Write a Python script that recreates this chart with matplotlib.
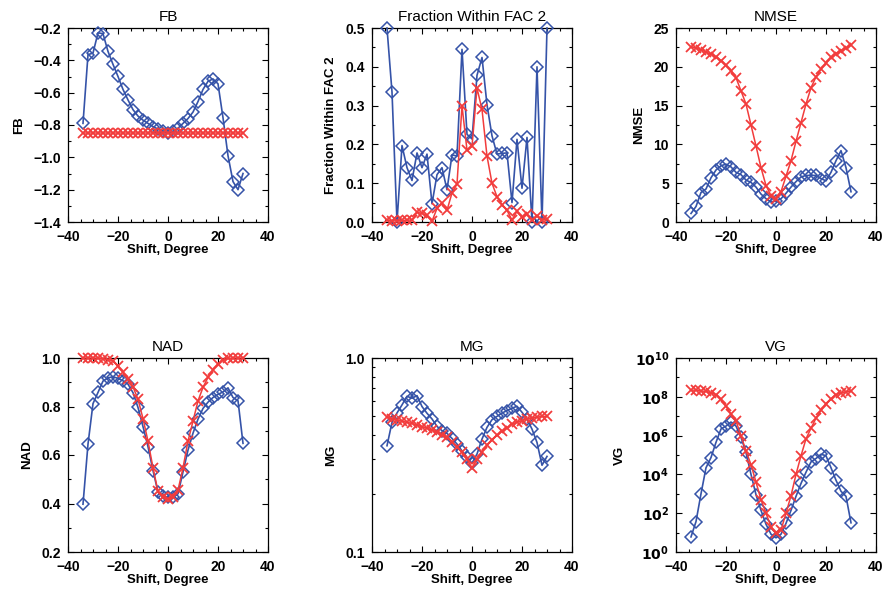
import matplotlib
matplotlib.use("Agg")
import matplotlib.pyplot as plt
from matplotlib.ticker import MultipleLocator, FixedLocator, NullFormatter, FixedFormatter

plt.rcParams['font.family'] = ['Liberation Sans', 'DejaVu Sans']
plt.rcParams['font.weight'] = 'bold'

# shift angle (degrees)
shift = [-34, -32, -30, -28, -26, -24, -22, -20, -18, -16, -14, -12, -10, -8, -6, -4, -2,
         0, 2, 4, 6, 8, 10, 12, 14, 16, 18, 20, 22, 24, 26, 28, 30]

# blue = diamonds, red = crosses
fb_blue = [-0.79, -0.365, -0.355, -0.23, -0.235, -0.345, -0.425, -0.50, -0.58, -0.645, -0.705,
           -0.745, -0.77, -0.79, -0.81, -0.825, -0.84, -0.85, -0.84, -0.82, -0.79, -0.76, -0.72,
           -0.655, -0.58, -0.53, -0.515, -0.545, -0.755, -0.99, -1.15, -1.20, -1.10]
fb_red = [-0.85, -0.85, -0.85, -0.85, -0.85, -0.85, -0.85, -0.85, -0.85, -0.85, -0.85,
          -0.85, -0.85, -0.85, -0.85, -0.85, -0.85, -0.85, -0.85, -0.85, -0.85, -0.85, -0.85,
          -0.85, -0.85, -0.85, -0.85, -0.85, -0.85, -0.85, -0.85, -0.85, -0.85]

fac2_blue = [0.50, 0.335, 0.0, 0.197, 0.14, 0.107, 0.178, 0.14, 0.175, 0.047, 0.122,
             0.14, 0.083, 0.173, 0.17, 0.445, 0.226, 0.214, 0.378, 0.424, 0.302, 0.222, 0.175,
             0.177, 0.178, 0.05, 0.213, 0.087, 0.218, 0.0, 0.40, 0.0, 0.50]
fac2_red = [0.005, 0.003, 0.003, 0.004, 0.005, 0.005, 0.025, 0.022, 0.017, 0.002, 0.035,
            0.048, 0.03, 0.075, 0.098, 0.30, 0.185, 0.195, 0.345, 0.29, 0.17, 0.10, 0.065,
            0.045, 0.03, 0.005, 0.028, 0.012, 0.02, 0.005, 0.015, 0.005, 0.008]

nmse_blue = [1.1, 2.0, 3.8, 4.25, 5.7, 6.7, 7.25, 7.45, 7.1, 6.4, 6.1, 5.4, 5.1, 4.5, 3.6,
             3.0, 2.6, 2.7, 3.0, 3.7, 4.5, 5.2, 5.8, 6.0, 6.0, 6.0, 5.6, 5.3, 6.4, 7.9, 9.2,
             7.0, 3.9]
nmse_red = [22.6, 22.4, 22.2, 21.9, 21.6, 21.3, 20.8, 20.2, 19.5, 18.6, 16.9, 15.2, 12.5,
            9.8, 7.0, 4.7, 3.4, 3.0, 3.9, 5.9, 7.9, 10.4, 12.8, 15.2, 17.3, 18.7, 19.7, 20.5,
            21.2, 21.7, 22.1, 22.4, 22.8]

nad_blue = [0.397, 0.645, 0.812, 0.858, 0.905, 0.918, 0.923, 0.916, 0.906, 0.892, 0.857,
            0.796, 0.717, 0.634, 0.536, 0.447, 0.432, 0.425, 0.425, 0.44, 0.53, 0.62, 0.69,
            0.748, 0.792, 0.818, 0.837, 0.85, 0.86, 0.877, 0.837, 0.824, 0.648]
nad_red = [1.0, 1.0, 1.0, 0.999, 0.997, 0.993, 0.989, 0.968, 0.941, 0.913, 0.881, 0.83,
           0.75, 0.657, 0.547, 0.45, 0.425, 0.42, 0.425, 0.455, 0.547, 0.657, 0.74, 0.823,
           0.879, 0.92, 0.952, 0.975, 0.992, 0.998, 1.0, 1.0, 1.0]

mg_blue = [0.353, 0.466, 0.521, 0.573, 0.635, 0.62, 0.64, 0.562, 0.519, 0.485, 0.444,
           0.422, 0.409, 0.385, 0.36, 0.332, 0.307, 0.287, 0.32, 0.382, 0.439, 0.481, 0.50,
           0.52, 0.536, 0.551, 0.564, 0.525, 0.485, 0.43, 0.367, 0.28, 0.311]
mg_red = [0.495, 0.486, 0.48, 0.472, 0.466, 0.46, 0.45, 0.443, 0.434, 0.425, 0.414, 0.402,
          0.39, 0.37, 0.349, 0.326, 0.30, 0.272, 0.30, 0.328, 0.356, 0.38, 0.40, 0.42, 0.436,
          0.457, 0.466, 0.476, 0.486, 0.49, 0.495, 0.50, 0.50]

vg_blue = [6.0, 3.7e1, 1.0e3, 2.2e4, 7.4e4, 4.5e5, 2.2e6, 3.1e6, 5.0e6, 3.1e6, 8.1e5,
           1.35e5, 1.0e4, 9.0e2, 1.4e2, 2.7e1, 8.3, 5.4, 8.3, 3.0e1, 1.4e2, 7.4e2, 3.4e3,
           1.3e4, 4.4e4, 6.6e4, 1.1e5, 9.1e4, 2.2e4, 5.0e3, 1.35e3, 7.4e2, 3.2e1]
vg_red = [2.2e8, 2.2e8, 2.0e8, 1.9e8, 1.6e8, 1.3e8, 7.4e7, 3.2e7, 1.3e7, 5.6e6, 1.0e6,
          1.6e5, 3.2e4, 4.0e3, 5.0e2, 1.0e2, 2.0e1, 9.0, 1.35e1, 1.0e2, 7.9e2, 1.0e4, 9.1e4,
          6.8e5, 2.4e6, 7.9e6, 2.0e7, 4.5e7, 7.9e7, 1.3e8, 1.6e8, 1.8e8, 2.0e8]

BLUE = '#3553a8'
RED = '#f23c3c'

W, H = 885, 591
fig = plt.figure(figsize=(W / 100, H / 100), dpi=100)


def make_axes(left, top):
    return fig.add_axes([left / W, 1 - (top + 194) / H, 200 / W, 194 / H])


def style(ax, title, ylabel):
    ax.set_title(title, fontsize=11, fontweight='normal', pad=5)
    ax.set_ylabel(ylabel, fontsize=9.5, fontweight='bold', labelpad=6)
    ax.set_xlabel('Shift, Degree', fontsize=9.5, fontweight='bold', labelpad=0)
    ax.set_xlim(-40, 40)
    ax.xaxis.set_major_locator(MultipleLocator(20))
    ax.xaxis.set_minor_locator(MultipleLocator(5))
    ax.tick_params(which='both', direction='in', top=True, right=True, labelsize=10)
    ax.tick_params(which='major', length=4, width=0.8)
    ax.tick_params(axis='x', which='major', pad=6)
    ax.tick_params(axis='y', which='major', pad=5)
    ax.tick_params(which='minor', length=2, width=0.8)
    for s in ax.spines.values():
        s.set_linewidth(0.9)
    for lab in ax.get_xticklabels() + ax.get_yticklabels():
        lab.set_fontweight('bold')


def draw(ax, blue, red):
    ax.plot(shift, blue, color=BLUE, marker='D', mfc='none', mec=BLUE, ms=5.8, mew=1.1,
            lw=1.2, clip_on=False, zorder=3)
    ax.plot(shift, red, color=RED, marker='x', ms=7, mew=1.3, lw=1.1, clip_on=False, zorder=4)


# FB
ax = make_axes(68, 28)
draw(ax, fb_blue, fb_red)
ax.set_ylim(-1.4, -0.2)
ax.yaxis.set_minor_locator(MultipleLocator(0.1))
ax.set_yticks([-1.4, -1.2, -1.0, -0.8, -0.6, -0.4, -0.2])
ax.set_yticklabels(['\u22121.4', '\u22121.2', '\u22121.0', '\u22120.8', '\u22120.6', '\u22120.4', '\u22120.2'])
style(ax, 'FB', 'FB')

# Fraction within FAC 2
ax = make_axes(372, 28)
draw(ax, fac2_blue, fac2_red)
ax.set_ylim(0, 0.5)
ax.set_yticks([0.0, 0.1, 0.2, 0.3, 0.4, 0.5])
ax.set_yticklabels(['0.0', '0.1', '0.2', '0.3', '0.4', '0.5'])
ax.yaxis.set_minor_locator(MultipleLocator(0.05))
style(ax, 'Fraction Within FAC 2', 'Fraction Within FAC 2')

# NMSE
ax = make_axes(676, 28)
draw(ax, nmse_blue, nmse_red)
ax.set_ylim(0, 25)
ax.set_yticks([0, 5, 10, 15, 20, 25])
ax.yaxis.set_minor_locator(MultipleLocator(2.5))
style(ax, 'NMSE', 'NMSE')

# NAD
ax = make_axes(68, 358)
draw(ax, nad_blue, nad_red)
ax.set_ylim(0.2, 1.0)
ax.set_yticks([0.2, 0.4, 0.6, 0.8, 1.0])
ax.set_yticklabels(['0.2', '0.4', '0.6', '0.8', '1.0'])
ax.yaxis.set_minor_locator(MultipleLocator(0.1))
style(ax, 'NAD', 'NAD')

# MG
ax = make_axes(372, 358)
draw(ax, mg_blue, mg_red)
ax.set_yscale('log')
ax.set_ylim(0.1, 1.0)
ax.yaxis.set_major_locator(FixedLocator([0.1, 1.0]))
ax.yaxis.set_major_formatter(FixedFormatter(['0.1', '1.0']))
ax.yaxis.set_minor_locator(FixedLocator([0.2, 0.3, 0.4, 0.5, 0.6, 0.7, 0.8, 0.9]))
ax.yaxis.set_minor_formatter(NullFormatter())
style(ax, 'MG', 'MG')

# VG
ax = make_axes(676, 358)
draw(ax, vg_blue, vg_red)
ax.set_yscale('log')
ax.set_ylim(1, 1e10)
vg_ticks = [1e0, 1e2, 1e4, 1e6, 1e8, 1e10]
ax.yaxis.set_major_locator(FixedLocator(vg_ticks))
ax.yaxis.set_major_formatter(FixedFormatter([r'$\mathbf{10^{%d}}$' % p for p in [0, 2, 4, 6, 8, 10]]))
ax.yaxis.set_minor_locator(FixedLocator([1e1, 1e3, 1e5, 1e7, 1e9]))
ax.yaxis.set_minor_formatter(NullFormatter())
style(ax, 'VG', 'VG')

fig.savefig('out.png', dpi=100)
